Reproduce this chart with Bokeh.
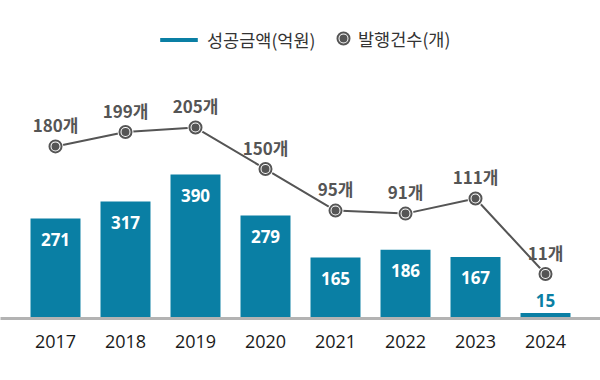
from bokeh.plotting import figure
from bokeh.models import ColumnDataSource, Range1d, FactorRange, Legend, LegendItem
from bokeh.core.properties import value
from bokeh.embed import file_html
from bokeh.resources import INLINE

years = ["2017", "2018", "2019", "2020", "2021", "2022", "2023", "2024"]
amounts = [271, 317, 390, 279, 165, 186, 167, 15]     # 성공금액(억원)
counts = [180, 199, 205, 150, 95, 91, 111, 11]        # 발행건수(개)

TEAL = "#0a7fa4"
GRAY = "#555555"

amt_labels = [str(v) for v in amounts]
amt_inside = [v >= 50 for v in amounts]
amt_color = ["white" if i else TEAL for i in amt_inside]
amt_off = [21 if i else -12 for i in amt_inside]
cnt_labels = [f"{v}개" for v in counts]

src = ColumnDataSource(dict(x=years, amt=amounts, cnt=counts, amt_lab=amt_labels,
                            amt_col=amt_color, amt_off=amt_off, cnt_lab=cnt_labels))

p = figure(width=600, height=380, output_backend="svg", toolbar_location=None,
           x_range=FactorRange(factors=years, range_padding=0.2857, range_padding_units="absolute"),
           y_range=Range1d(0, 861.8), min_border_left=0, min_border_right=0,
           min_border_top=0, min_border_bottom=62, y_axis_location=None)
p.extra_y_ranges = {"cnt": Range1d(-47.9, 373.2)}
p.outline_line_color = None
p.xgrid.visible = False
p.ygrid.visible = False

p.xaxis.axis_line_color = "#b3b3b3"
p.xaxis.axis_line_width = 3
p.xaxis.major_tick_line_color = None
p.xaxis.minor_tick_line_color = None
p.xaxis.major_label_text_font = "Open Sans"
p.xaxis.major_label_text_font_size = "18px"
p.xaxis.major_label_text_color = "#1a1a1a"
p.xaxis.major_label_standoff = 10

bars = p.vbar(x="x", top="amt", width=0.714, source=src, fill_color=TEAL, line_color=None)
p.text(x="x", y="amt", text="amt_lab", source=src, text_color="amt_col", y_offset="amt_off",
       text_align="center", text_baseline="middle", text_font=value("Open Sans"),
       text_font_style="bold", text_font_size="17px")

p.line(x="x", y="cnt", source=src, y_range_name="cnt", line_color=GRAY, line_width=2)
m1 = p.scatter(x="x", y="cnt", source=src, y_range_name="cnt", size=12, marker="circle",
               fill_color=GRAY, line_color="white", line_width=4)
m2 = p.scatter(x="x", y="cnt", source=src, y_range_name="cnt", size=12, marker="circle",
               fill_alpha=0, line_color=GRAY, line_width=2)
p.text(x="x", y="cnt", text="cnt_lab", source=src, y_range_name="cnt", y_offset=-22,
       text_color=GRAY, text_align="center", text_baseline="middle",
       text_font=value("Noto Sans CJK KR"), text_font_style="bold", text_font_size="17px")


def style(leg):
    leg.padding = 0
    leg.margin = 0
    leg.border_line_alpha = 0
    leg.background_fill_alpha = 0
    leg.label_text_font = "Noto Sans CJK KR"
    leg.label_text_font_size = "17.5px"
    leg.label_text_color = "#333333"
    leg.orientation = "horizontal"

leg1 = Legend(items=[LegendItem(label="성공금액(억원)", renderers=[bars])],
              location=(155, 266), glyph_width=47, glyph_height=5, label_height=5,
              label_standoff=5)
style(leg1)
leg2 = Legend(items=[LegendItem(label="발행건수(개)", renderers=[m1, m2])],
              location=(328, 265), glyph_width=30, glyph_height=30, label_standoff=-6)
style(leg2)
p.add_layout(leg1, "center")
p.add_layout(leg2, "center")

open("out.html", "w").write(file_html(p, INLINE))
